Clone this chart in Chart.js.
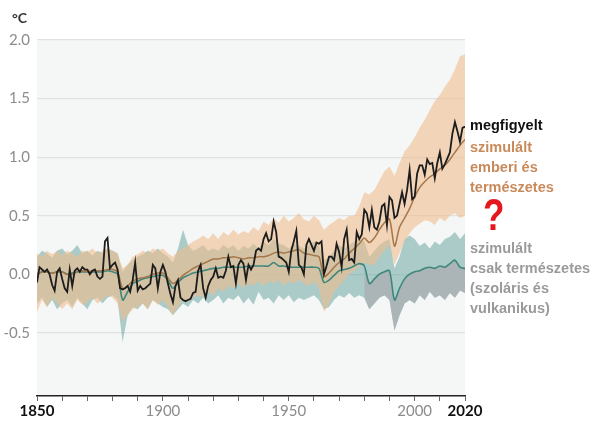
<!DOCTYPE html>
<html>
<head>
<meta charset="utf-8">
<script src="https://cdn.jsdelivr.net/npm/chart.js@4.4.1/dist/chart.umd.min.js"></script>
<style>
body{margin:0;background:#fff;}
#wrap{position:relative;width:595px;height:421px;overflow:hidden;}
#chart{position:absolute;left:0;top:0;}
.lbl{position:absolute;font-family:"Liberation Sans",Arial,sans-serif;font-weight:bold;font-size:14.5px;line-height:20px;white-space:nowrap;}
</style>
</head>
<body>
<div id="wrap">
<canvas id="chart" width="595" height="421"></canvas>
<div class="lbl" style="left:12px;top:8px;font-family:Lato;font-size:14px;color:#333;">°C</div>
<div class="lbl" style="left:470px;top:115px;color:#111;">megfigyelt</div>
<div class="lbl" style="left:470px;top:137px;color:#c98a5b;">szimulált<br>emberi és<br>természetes</div>
<div class="lbl" style="left:483px;top:190px;color:#e5161d;font-size:45px;line-height:50px;transform:scaleX(0.78);transform-origin:left top;">?</div>
<div class="lbl" style="left:470px;top:238px;color:#9a9a9a;">szimulált<br>csak természetes<br>(szoláris és<br>vulkanikus)</div>
</div>
<script>

// observed, one value per year 1850..2020
const observed=[
-0.07,0.06,0.04,0.02,0.04,0.00,-0.09,-0.14,0.02,0.05,
-0.04,-0.12,-0.15,0.04,-0.10,0.03,0.05,0.02,0.06,0.04,
0.04,0.00,0.03,0.04,-0.02,-0.04,-0.02,0.28,0.31,0.05,
0.08,0.10,0.04,-0.12,-0.13,-0.12,-0.10,-0.15,-0.05,0.10,
-0.14,-0.10,-0.13,-0.12,-0.10,-0.08,0.08,0.05,-0.12,0.02,
0.08,0.02,-0.08,-0.17,-0.24,-0.10,-0.05,-0.20,-0.22,-0.23,
-0.22,-0.21,-0.16,-0.15,0.03,0.08,-0.12,-0.20,-0.10,-0.05,
-0.02,0.05,-0.03,-0.02,-0.03,0.03,0.15,0.06,0.07,-0.08,
0.08,0.12,0.09,-0.05,0.08,0.04,0.08,0.20,0.22,0.20,
0.30,0.35,0.28,0.30,0.45,0.36,0.15,0.14,0.12,0.10,
0.02,0.20,0.28,0.37,0.08,0.06,0.00,0.25,0.30,0.25,
0.20,0.27,0.26,0.28,0.00,0.07,0.15,0.15,0.12,0.26,
0.19,0.06,0.30,0.38,0.12,0.13,0.10,0.36,0.30,0.34,
0.55,0.52,0.40,0.55,0.40,0.38,0.45,0.58,0.60,0.42,
0.66,0.63,0.48,0.50,0.60,0.70,0.60,0.72,0.89,0.64,
0.66,0.86,0.93,0.93,0.85,0.98,0.94,0.95,0.82,0.95,
1.04,0.90,0.94,0.99,1.04,1.20,1.30,1.22,1.13,1.25,
1.26];

// simulations, every 2nd year 1850..2020
const humMean=[
0.00,0.02,0.02,0.01,0.02, 0.02,0.00,0.00,0.02,0.03,
0.02,0.03,0.03,0.03,0.04, 0.04,0.02,-0.12,-0.10,-0.06,
-0.04,-0.03,-0.02,0.00,0.01, 0.01,-0.03,-0.08,-0.05,-0.01,
0.02,0.05,0.07,0.09,0.11, 0.13,0.13,0.14,0.14,0.15,
0.14,0.13,0.14,0.14,0.15, 0.15,0.16,0.18,0.19,0.18,
0.19,0.20,0.21,0.18,0.17, 0.16,0.15,-0.02,0.01,0.06,
0.10,0.13,0.18,0.22,0.26, 0.31,0.27,0.31,0.38,0.44,
0.47,0.24,0.40,0.48,0.56, 0.66,0.74,0.79,0.83,0.86,
0.90,0.93,0.98,1.04,1.10, 1.15];
const humUp=[
0.18,0.15,0.20,0.17,0.20, 0.16,0.20,0.18,0.15,0.20,
0.19,0.22,0.18,0.20,0.22, 0.20,0.18,0.05,0.08,0.15,
0.17,0.20,0.18,0.22,0.20, 0.22,0.18,0.15,0.20,0.22,
0.25,0.28,0.30,0.33,0.30, 0.35,0.30,0.36,0.33,0.38,
0.34,0.37,0.35,0.40,0.37, 0.45,0.42,0.48,0.44,0.50,
0.45,0.48,0.52,0.47,0.45, 0.50,0.46,0.38,0.42,0.45,
0.48,0.46,0.50,0.50,0.58, 0.70,0.68,0.72,0.80,0.88,
0.92,0.84,0.95,1.05,1.10, 1.17,1.25,1.32,1.40,1.48,
1.53,1.60,1.66,1.75,1.86, 1.88];
const humLo=[
-0.32,-0.22,-0.28,-0.20,-0.25, -0.30,-0.25,-0.30,-0.22,-0.26,
-0.24,-0.20,-0.25,-0.22,-0.18, -0.20,-0.25,-0.40,-0.35,-0.30,
-0.28,-0.25,-0.30,-0.22,-0.26, -0.22,-0.28,-0.35,-0.28,-0.22,
-0.24,-0.20,-0.18,-0.20,-0.15, -0.18,-0.12,-0.15,-0.10,-0.12,
-0.08,-0.12,-0.08,-0.10,-0.06, -0.10,-0.06,-0.08,-0.05,-0.10,
-0.06,-0.08,-0.05,-0.08,-0.10, -0.06,-0.12,-0.32,-0.25,-0.15,
-0.10,-0.05,0.00,0.03,0.06, 0.10,0.08,0.08,0.15,0.20,
0.25,0.08,0.18,0.28,0.35, 0.40,0.43,0.46,0.45,0.42,
0.48,0.45,0.50,0.52,0.48, 0.50];
const natMean=[
0.00,0.02,0.02,0.01,0.02, 0.02,0.00,0.01,0.02,0.02,
0.02,0.02,0.02,0.02,0.03, 0.02,0.00,-0.22,-0.15,-0.08,
-0.06,-0.04,-0.03,-0.02,-0.01, -0.01,-0.05,-0.12,-0.07,-0.03,
-0.01,0.01,0.02,0.03,0.04, 0.05,0.05,0.06,0.06,0.06,
0.06,0.06,0.07,0.07,0.07, 0.07,0.07,0.10,0.07,0.07,
0.06,0.06,0.06,0.06,0.06, 0.06,0.05,-0.07,-0.05,-0.01,
0.03,0.04,0.05,0.07,0.09, 0.07,-0.08,-0.04,0.00,0.02,
0.03,-0.22,-0.12,-0.04,0.00, 0.02,0.03,0.05,0.06,0.05,
0.07,0.06,0.09,0.12,0.06, 0.05];
const natUp=[
0.15,0.20,0.18,0.14,0.20, 0.22,0.17,0.20,0.25,0.18,
0.20,0.16,0.20,0.18,0.22, 0.20,0.18,0.02,0.08,0.12,
0.15,0.17,0.20,0.18,0.22, 0.18,0.15,0.10,0.22,0.38,
0.25,0.20,0.22,0.25,0.20, 0.22,0.20,0.25,0.22,0.25,
0.20,0.24,0.22,0.26,0.22, 0.28,0.25,0.30,0.26,0.25,
0.22,0.26,0.24,0.22,0.25, 0.28,0.24,0.12,0.15,0.20,
0.25,0.22,0.25,0.28,0.30, 0.28,0.15,0.20,0.25,0.28,
0.30,0.05,0.15,0.30,0.33, 0.30,0.24,0.27,0.22,0.28,
0.25,0.30,0.32,0.36,0.30, 0.35];
const natLo=[
-0.25,-0.20,-0.28,-0.22,-0.30, -0.25,-0.22,-0.28,-0.20,-0.25,
-0.30,-0.22,-0.20,-0.25,-0.20, -0.18,-0.22,-0.58,-0.35,-0.28,
-0.30,-0.25,-0.30,-0.22,-0.25, -0.28,-0.30,-0.35,-0.30,-0.25,
-0.28,-0.22,-0.25,-0.20,-0.25, -0.22,-0.18,-0.25,-0.20,-0.22,
-0.18,-0.25,-0.20,-0.26,-0.15, -0.22,-0.20,-0.25,-0.18,-0.22,
-0.18,-0.24,-0.20,-0.22,-0.20, -0.18,-0.22,-0.30,-0.28,-0.22,
-0.18,-0.20,-0.16,-0.20,-0.18, -0.20,-0.30,-0.25,-0.20,-0.18,
-0.22,-0.48,-0.35,-0.25,-0.22, -0.25,-0.18,-0.22,-0.15,-0.20,
-0.18,-0.22,-0.16,-0.20,-0.14, -0.16];

const yTicks=[-0.5,0,0.5,1,1.5,2];
const xLabels=[1850,1900,1950,2000,2020];
const grayFrom=1980;

let years=[];
for(let y=1850;y<=2020;y++) years.push(y);
let simYears=[];
for(let y=1850;y<=2020;y+=2) simYears.push(y);
let decades=[];
for(let y=1850;y<=2020;y+=10) decades.push(y);

function pts(xs,ys){
return xs.map((x,i)=>({x:x,y:ys[i]}));
}
function ptsFrom(xs,ys,from){
return pts(xs,ys).filter(p=>p.x>=from);
}

const plotBg={
id:"plotBg",
beforeDraw(chart){
let a=chart.chartArea;
let c=chart.ctx;
c.save();
c.fillStyle="#f5f7f7";
c.fillRect(a.left,a.top,a.right-a.left,a.bottom-a.top);
c.restore();
}
};

function band(data,color,fill){
return {data:data,borderWidth:0,pointRadius:0,fill:fill,backgroundColor:color,borderColor:"transparent",tension:0};
}

new Chart(document.getElementById("chart"),{
type:"line",
data:{
datasets:[
{data:pts(years,observed),borderColor:"#1c1c1c",borderWidth:1.8,pointRadius:0,fill:false,tension:0},
{data:pts(simYears,humMean),borderColor:"#a5764a",borderWidth:1.5,pointRadius:0,fill:false,tension:0.3},
{data:pts(simYears,natMean),borderColor:"#3f877d",borderWidth:1.6,pointRadius:0,fill:false,tension:0.3},
band(pts(simYears,humUp),"rgba(240,188,142,0.6)","+1"),
band(pts(simYears,humLo),"transparent",false),
band(ptsFrom(simYears,natMean,grayFrom),"rgba(172,178,180,0.85)","+1"),
band(ptsFrom(simYears,natLo,grayFrom),"transparent",false),
band(pts(simYears,natUp),"rgba(108,168,163,0.55)","+1"),
band(pts(simYears,natLo),"transparent",false)
]
},
options:{
responsive:false,
animation:false,
layout:{padding:{left:0,right:130,top:40,bottom:0}},
plugins:{legend:{display:false},tooltip:{enabled:false}},
scales:{
x:{
type:"linear",
min:1850,
max:2020,
afterBuildTicks(scale){scale.ticks=decades.map(v=>({value:v}));},
afterFit(scale){scale.height=25;},
border:{display:true,color:"#222",width:1.5},
grid:{drawOnChartArea:false,drawTicks:true,tickLength:5,tickColor:"#666"},
ticks:{
autoSkip:false,
maxRotation:0,
padding:1,
callback:v=>xLabels.includes(v)?String(v):"",
color:ctx=>(ctx.tick&&(ctx.tick.value==1850||ctx.tick.value==2020))?"#111":"#8c8c8c",
font:ctx=>({family:"Lato",size:15,weight:(ctx.tick&&(ctx.tick.value==1850||ctx.tick.value==2020))?"bold":"normal"})
}
},
y:{
min:-1.04,
max:2,
afterBuildTicks(scale){scale.ticks=yTicks.map(v=>({value:v}));},
afterFit(scale){scale.width=37;},
border:{display:false},
grid:{color:"#dfe3e3",lineWidth:1.2,drawTicks:false},
ticks:{
padding:7,
color:"#8c8c8c",
font:{family:"Lato",size:15},
callback:v=>v.toFixed(1)
}
}
}
},
plugins:[plotBg]
});

</script>
</body>
</html>
